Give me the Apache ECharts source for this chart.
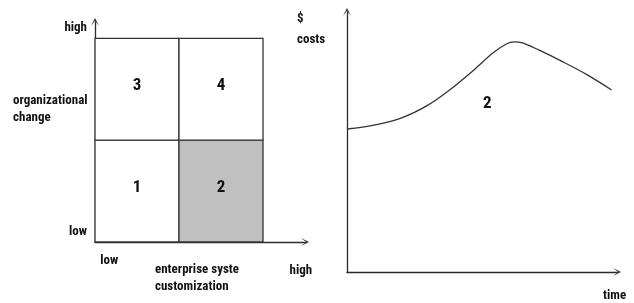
<!DOCTYPE html>
<html>
<head>
<meta charset="utf-8">
<script src="https://cdn.jsdelivr.net/npm/echarts@6/dist/echarts.min.js"></script>
<style>
  html, body { margin: 0; padding: 0; background: #fff; }
  #chart { width: 634px; height: 303px; }
</style>
</head>
<body>
<div id="chart"></div>
<script>
// 左侧四象限
const quadrantCols = [0, 1, 0, 1]
const quadrantRows = [0, 0, 1, 1]
const quadrantLabels = ['1', '2', '3', '4']
const quadrantShaded = [0, 1, 0, 0]

// 坐标轴文字
const levelTicks = ['low', 'high']
const leftYTitle = 'organizational\nchange'
const leftXTitle = 'enterprise syste\ncustomization'

// 右侧成本曲线
const timePoints = [0, 10, 20, 30, 38, 47, 54, 59, 62, 65, 71, 80, 89, 98]
const costValues = [55, 56.5, 59.2, 64.2, 70, 77.7, 84.2, 87.7, 88.5, 88.1, 85.4, 80.8, 75.8, 70]
const rightYTitle = '$\ncosts'
const rightXTitle = 'time'
const curveLabel = '2'

const FONT = '"Roboto Condensed", "DejaVu Sans Condensed", sans-serif'
const arrowPath = 'path://M0,10 L5,0 L10,10 L5,3.5 Z'
const axisColor = '#2a2a2a'

const chart = echarts.init(document.getElementById('chart'))

const quadrantData = quadrantLabels.map((label, i) => [quadrantCols[i], quadrantRows[i], label, quadrantShaded[i]])
const curveData = timePoints.map((t, i) => [t, costValues[i]])

const axisLineBase = {
  show: true,
  symbol: ['none', arrowPath],
  symbolSize: [8, 11],
  lineStyle: { color: axisColor, width: 1.3 }
}

const labelStyle = { color: '#111', fontFamily: FONT, fontWeight: 'bold', fontSize: 13 }

chart.setOption({
  animation: false,
  textStyle: { fontFamily: FONT },
  grid: [
    { left: 95, top: 22, width: 210, height: 220 },
    { left: 347, top: 12, width: 270, height: 260 }
  ],
  xAxis: [
    {
      gridIndex: 0, type: 'value', min: 0, max: 2.5,
      axisLine: axisLineBase,
      axisTick: { show: false },
      splitLine: { show: false },
      axisLabel: {
        customValues: [0.17, 2.45],
        margin: 12,
        ...labelStyle,
        formatter: (v) => v < 1 ? levelTicks[0] : '{hi|' + levelTicks[1] + '}',
        rich: { hi: { padding: [10, 0, 0, 0], ...labelStyle } }
      }
    },
    {
      gridIndex: 1, type: 'value', min: 0, max: 100,
      axisLine: axisLineBase,
      axisTick: { show: false },
      splitLine: { show: false },
      axisLabel: { show: false }
    }
  ],
  yAxis: [
    {
      gridIndex: 0, type: 'value', min: 0, max: 2.16,
      axisLine: axisLineBase,
      axisTick: { show: false },
      splitLine: { show: false },
      axisLabel: {
        customValues: [0.1, 2.1],
        margin: 8,
        ...labelStyle,
        formatter: (v) => v < 1 ? levelTicks[0] : levelTicks[1]
      }
    },
    {
      gridIndex: 1, type: 'value', min: 0, max: 100,
      axisLine: axisLineBase,
      axisTick: { show: false },
      splitLine: { show: false },
      axisLabel: { show: false }
    }
  ],
  series: [
    {
      type: 'custom',
      xAxisIndex: 0,
      yAxisIndex: 0,
      data: quadrantData,
      renderItem: (params, api) => {
        const col = api.value(0)
        const row = api.value(1)
        const p0 = api.coord([col, row + 1])
        const p1 = api.coord([col + 1, row])
        return {
          type: 'rect',
          shape: { x: p0[0], y: p0[1], width: p1[0] - p0[0], height: p1[1] - p0[1] },
          style: {
            fill: api.value(3) ? '#c0c0c0' : '#fff',
            stroke: '#333',
            lineWidth: 1.3
          },
          textContent: {
            style: {
              text: quadrantLabels[params.dataIndex],
              font: 'bold 17px ' + FONT,
              fill: '#111'
            }
          },
          textConfig: { position: 'inside', offset: [0, -3] }
        }
      }
    },
    {
      type: 'line',
      xAxisIndex: 1,
      yAxisIndex: 1,
      data: curveData,
      smooth: 0.35,
      showSymbol: false,
      lineStyle: { color: '#333', width: 1.3 }
    }
  ],
  graphic: [
    { type: 'text', left: 13, top: 92, z: 10, style: { text: leftYTitle, font: 'bold 13px ' + FONT, lineHeight: 17, fill: '#111' } },
    { type: 'text', left: 155, top: 261, z: 10, style: { text: leftXTitle, font: 'bold 13px ' + FONT, lineHeight: 17, fill: '#111' } },
    { type: 'text', left: 297, top: 8, z: 10, style: { text: rightYTitle, font: 'bold 13px ' + FONT, lineHeight: 21, fill: '#111' } },
    { type: 'text', left: 603, top: 289, z: 10, style: { text: rightXTitle, font: 'bold 13px ' + FONT, fill: '#111' } },
    { type: 'text', left: 483, top: 95, z: 10, style: { text: curveLabel, font: 'bold 17px ' + FONT, fill: '#111' } }
  ]
})
</script>
</body>
</html>
